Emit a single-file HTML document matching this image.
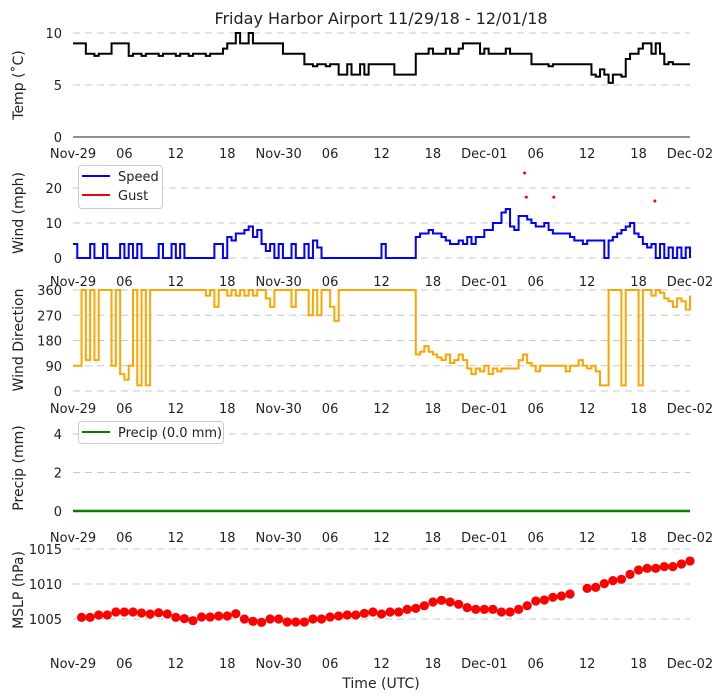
<!DOCTYPE html>
<html><head><meta charset="utf-8"><style>
body{margin:0;background:#fff;}
svg{display:block;font-family:"DejaVu Sans","Liberation Sans",sans-serif;}
</style></head><body>
<svg id="chart" width="722" height="700" xmlns="http://www.w3.org/2000/svg"></svg>
<script>
const tempVals=[9,9,9,8,8,7.8,8,8,8,9,
9,9,9,7.8,8,8,7.8,8,8,8,
7.8,8,8,8,7.8,8,8,7.8,8,8,
8,7.8,8,8,8,8.5,9,9,10,9,
9,10,9,9,9,9,9,9,9,8,
8,8,8,8,7,7,6.8,7,7,6.8,
7,7,6,6,7,6,6,7,6,7,
7,7,7,7,7,6,6,6,6,6,
8,8,8,8.5,8,8,8,8.5,8,8,
8.5,9,9,9,9,8,8.5,8,8,8,
8,8.5,8,8,8,8,8,7,7,7,
7,6.8,7,7,7,7,7,7,7,7,
7,6,5.8,6.5,6,5.2,6,6,5.8,7.5,
8,8,8.5,9,9,8,9,8,7,7.2,
7,7,7,7,7];
const windVals=[4,0,0,0,4,0,0,4,0,0,
0,4,0,4,0,4,0,0,0,0,
4,0,0,4,0,4,0,0,0,0,
0,0,0,4,4,0,6,5,7,7,
8,9,6,8,4,2,4,0,4,0,
0,4,0,0,4,0,5,3,0,0,
0,0,0,0,0,0,0,0,0,0,
0,0,4,0,0,0,0,0,0,0,
6,7,7,8,7,7,6,5,4,4,
5,4,6,4,6,6,8,8,10,10,
13,14,9,8,12,12,11,10,9,9,
10,8,7,7,7,7,6,5,5,4,
5,5,5,5,0,5,6,7,8,9,
10,7,6,4,3,4,0,4,0,3,
0,3,0,3,0];
const gustHours=[52.7,52.9,56.1,67.9];
const gustVals=[24.3,17.4,17.4,16.3];
const dirVals=[90,90,360,110,360,110,360,360,360,90,
360,60,40,90,360,20,360,20,360,360,
360,360,360,360,360,360,360,360,360,360,
360,340,360,300,360,360,340,360,340,360,
340,360,340,360,360,330,300,360,360,360,
360,300,360,360,360,270,360,270,360,360,
300,250,360,360,360,360,360,360,360,360,
360,360,360,360,360,360,360,360,360,360,
130,140,160,140,130,120,110,130,100,110,
130,110,80,60,80,70,90,60,80,70,
80,80,80,80,110,130,100,90,70,90,
90,90,90,90,90,70,90,90,110,90,
80,90,70,20,20,360,360,360,20,360,
360,360,20,360,360,340,360,350,330,320,
300,330,320,290,340];
const mslpVals=[1005.24,1005.24,1005.57,1005.57,1006,1006,1006,1005.86,1005.71,1005.9,
1005.71,1005.24,1005.05,1004.76,1005.29,1005.29,1005.43,1005.43,1005.76,1005,
1004.67,1004.52,1005,1005,1004.57,1004.57,1004.57,1005,1005,1005.29,
1005.43,1005.57,1005.57,1005.81,1006,1005.71,1006,1006,1006.38,1006.52,
1006.9,1007.43,1007.67,1007.43,1007.1,1006.62,1006.38,1006.38,1006.38,1006,
1006,1006.38,1006.9,1007.57,1007.71,1008.1,1008.29,1008.57,null,1009.38,
1009.52,1010.05,1010.48,1010.67,1011.38,1012,1012.24,1012.24,1012.48,1012.48,
1012.86,1013.29];
const xTickLabels=["Nov-29","06","12","18","Nov-30","06","12","18","Dec-01","06","12","18","Dec-02"];
const tempTicks=[0,5,10];
const windTicks=[0,10,20];
const dirTicks=[0,90,180,270,360];
const precipTicks=[0,2,4];
const mslpTicks=[1005,1010,1015];

const NS="http://www.w3.org/2000/svg";
const svg=document.getElementById('chart');
function mk(tag,attrs,parent){const e=document.createElementNS(NS,tag);for(const k in attrs)e.setAttribute(k,attrs[k]);(parent||svg).appendChild(e);return e;}
const X0=73,X1=690;
function xs(h){return X0+(X1-X0)*h/72;}
function lin(v0,p0,v1,p1){return v=>p0+(v-v0)*(p1-p0)/(v1-v0);}
const yT=lin(0,137,10,33), yW=lin(0,258,20,188), yD=lin(0,391,360,290), yP=lin(0,511,4,434), yM=lin(1005,619,1015,549);

function txt(s,x,y,o){const t=mk('text',Object.assign({x:x,y:y,'font-size':13,fill:'#222'},o||{}));t.textContent=s;return t;}

function panel(name,ticks,ys,labY,title,titleY){
  const g=mk('g',{});
  
  
  ticks.forEach(v=>{
    const y=ys(v);
    const l=mk('line',{x1:X0,x2:X1,y1:y,y2:y,stroke:'#c8c8c8','stroke-width':1,'stroke-dasharray':'7,5'},g);
    
    
    const t=txt(String(v),62,y+5,{'text-anchor':'end'});g.appendChild(t);
    
    
  });
  xTickLabels.forEach((s,i)=>{
    const t=txt(s,xs(i*6),labY,{'text-anchor':'middle'});g.appendChild(t);
    
    
  });
  const tt=txt(title,0,0,{'text-anchor':'middle','font-size':14,transform:`translate(23,${titleY}) rotate(-90)`});g.appendChild(tt);
  
  
  return g;
}
function stepPath(vals,ys){
  let d='';vals.forEach((v,i)=>{const x=xs(i/2),y=ys(v);if(i===0)d+=`M${x},${y}`;else d+=`V${y}`;d+=`H${xs(Math.min(72,(i+1)/2))}`;});return d;
}

const ti=txt('Friday Harbor Airport 11/29/18 - 12/01/18',381,24,{'text-anchor':'middle','font-size':16});



const gT=panel('temp',tempTicks,yT,158,'Temp (˚C)',85);
const ax=mk('line',{x1:X0,x2:X1,y1:137,y2:137,stroke:'#222','stroke-width':1},gT);


const pT=mk('path',{d:stepPath(tempVals,yT),fill:'none',stroke:'#000','stroke-width':2},gT);



const gW=panel('wind',windTicks,yW,286,'Wind (mph)',213);
const pW=mk('path',{d:stepPath(windVals,yW),fill:'none',stroke:'#0000ff','stroke-width':2},gW);


gustHours.forEach((h,i)=>{const c=mk('circle',{cx:xs(h),cy:yW(gustVals[i]),r:1.5,fill:'#ff0000'},gW);
  
  });
const lgW=mk('g',{},gW);


mk('rect',{x:78.5,y:165.5,width:84,height:43,rx:3,fill:'#fff',stroke:'#ccc'},lgW);
mk('line',{x1:82,x2:110,y1:176,y2:176,stroke:'#0000ff','stroke-width':2},lgW);
lgW.appendChild(txt('Speed',118,181));
mk('line',{x1:82,x2:110,y1:195,y2:195,stroke:'#ff0000','stroke-width':2},lgW);
lgW.appendChild(txt('Gust',118,200));

const gD=panel('direction',dirTicks,yD,413,'Wind Direction',340);
const pD=mk('path',{d:stepPath(dirVals,yD),fill:'none',stroke:'#ffa500','stroke-width':2},gD);



const gP=panel('precip',precipTicks,yP,542,'Precip (mm)',468);
const pP=mk('line',{x1:X0,x2:X1,y1:yP(0),y2:yP(0),stroke:'#008000','stroke-width':2.5},gP);


const lgP=mk('g',{},gP);


mk('rect',{x:78.5,y:421.5,width:145,height:22,rx:3,fill:'#fff',stroke:'#ccc'},lgP);
mk('line',{x1:82,x2:110,y1:432,y2:432,stroke:'#008000','stroke-width':2},lgP);
lgP.appendChild(txt('Precip (0.0 mm)',118,437));

const gM=panel('mslp',mslpTicks,yM,668,'MSLP (hPa)',590);
mslpVals.forEach((v,i)=>{if(v===null)return;
  const c=mk('circle',{cx:xs(i+1),cy:yM(v),r:4.6,fill:'#ff0000'},gM);
  
  });

const xl=txt('Time (UTC)',381,688,{'text-anchor':'middle','font-size':14});


</script>
</body></html>
